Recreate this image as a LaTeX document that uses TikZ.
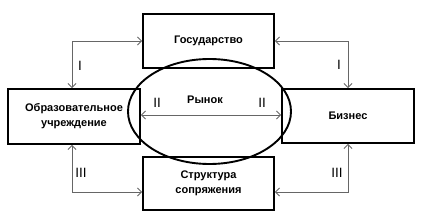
\documentclass[tikz,border=0pt]{standalone}
\usepackage{fontspec}
\setmainfont{Liberation Sans}
\usetikzlibrary{arrows.meta,shapes.geometric}
\begin{document}
\begin{tikzpicture}[x=1pt,y=-1pt,
  box/.style={draw=black,line width=1.9pt,fill=white,inner sep=0pt},
  lbl/.style={font=\fontsize{11}{15}\selectfont\bfseries,align=center},
  rom/.style={font=\fontsize{13.5}{15}\selectfont},
  conn/.style={draw=black!60,line width=0.9pt,{Straight Barb[length=4pt,width=8pt]}-{Straight Barb[length=4pt,width=8pt]}}]
\useasboundingbox (0,0) rectangle (422,224);
\node[box,minimum width=131pt,minimum height=54pt] (gos) at (208.5,41) {};
\node[lbl] at (gos) {Государство};
\node[box,minimum width=132pt,minimum height=55pt] (obr) at (74,116.5) {};
\node[lbl] at (obr) {Образовательное\\учреждение};
\node[box,minimum width=132pt,minimum height=54pt] (biz) at (348,116) {};
\node[lbl] at (biz) {Бизнес};
\node[box,minimum width=131pt,minimum height=53pt] (str) at (208.5,183.5) {};
\node[lbl] at (str) {Структура\\сопряжения};
\coordinate (c1) at (72,41);
\coordinate (c2) at (348,41);
\coordinate (c3) at (72,192);
\coordinate (c4) at (348,192);
\draw[conn] (gos.west |- c1) -- (c1) -- (c1 |- obr.north);
\draw[conn] (gos.east |- c2) -- (c2) -- (c2 |- biz.north);
\draw[conn] (str.west |- c3) -- (c3) -- (c3 |- obr.south);
\draw[conn] (str.east |- c4) -- (c4) -- (c4 |- biz.south);
\node[rom] (r1) at (80,66) {I};
\node[rom] (r2) at (339,65) {I};
\node[rom] (r3) at (81,173) {III};
\node[rom] (r4) at (337,173) {III};
\node[ellipse,draw=black,line width=1.9pt,minimum width=163pt,minimum height=105pt,inner sep=0pt] (ryn) at (209.5,111.5) {};
\coordinate (m1) at (obr.east |- 0,115);
\coordinate (m2) at (biz.west |- 0,115);
\draw[conn] (m1) -- (m2);
\node[rom] (r5) at (157,103) {II};
\node[rom] (r6) at (262,103) {II};
\node[lbl] (rt) at (205,100) {Рынок};
\end{tikzpicture}
\end{document}
